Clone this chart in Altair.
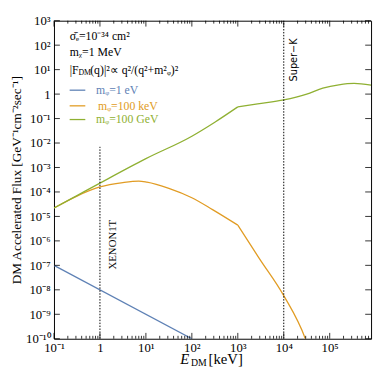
import altair as alt
import pandas as pd

# ---- data ----
blue_E = [0.1, 100.0]
blue_F = [1e-7, 1e-10]

orange_E = [0.1, 0.316, 1.0, 3.16, 7.0, 10.5, 31.6, 100.0, 282.0, 1000.0, 2950.0, 10000.0, 29500.0, 35000.0]
orange_F = [2.2e-5, 6.8e-5, 1.6e-4, 2.4e-4, 2.75e-4, 2.5e-4, 1.4e-4, 5.8e-5, 1.9e-5, 4.4e-6, 1.9e-7, 5.8e-9, 1.0e-10, 4e-11]

green_E = [0.1, 0.316, 1.0, 10.0, 100.0, 316.0, 1000.0, 2700.0, 10000.0, 31600.0, 70800.0, 158000.0, 339000.0, 794000.0]
green_F = [2.2e-5, 7.1e-5, 2.3e-4, 2.3e-3, 1.9e-2, 7.1e-2, 0.30, 0.40, 0.58, 1.0, 1.74, 2.4, 2.75, 2.3]

series_names = ["m_phi=1 eV", "m_phi=100 keV", "m_phi=100 GeV"]
colors = ["#5E81B5", "#E19C24", "#8FB032"]
kink_E = 1000.0

x_ticks_major = [0.1, 1, 10, 100, 1e3, 1e4, 1e5]
y_ticks_major = [10.0 ** e for e in range(-10, 4)]
x_ticks_minor = [m * 10.0 ** k for k in range(-1, 6) for m in range(2, 10) if m * 10.0 ** k < 10 ** 5.9]

xenon_x = [1.0, 1.0]
xenon_y = [1e-10, 7e-3]
superk_x = [1e4, 1e4]
superk_y = [1e-10, 1e3]

XDOM = [0.1, 10 ** 5.9]
YDOM = [1e-10, 1e3]
W, H = 324, 325

SUP = str.maketrans("-0123456789", "⁻⁰¹²³⁴⁵⁶⁷⁸⁹")


def lab(e):
    return "1" if e == 0 else "10" + str(e).translate(SUP)


def label_expr(exps):
    e = "round(log(datum.value)/LN10)"
    s = "''"
    for k in exps:
        s = f"({e}=={k}?'{lab(k)}':{s})"
    return s


x_axis = alt.Axis(values=x_ticks_major, labelExpr=label_expr(range(-1, 6)), title=None,
                  labelPadding=3, labelFlush=False)
y_axis = alt.Axis(values=y_ticks_major, labelExpr=label_expr(range(-10, 4)),
                  title="DM Accelerated Flux [GeV⁻¹cm⁻²sec⁻¹]", titleFont="Liberation Serif",
                  titleFontSize=13.5, titleFontWeight="normal", titleX=-38, titleY=H / 2,
                  titleBaseline="middle", labelPadding=4, labelFlush=False)

xs = alt.Scale(type="log", domain=XDOM, nice=False)
ys = alt.Scale(type="log", domain=YDOM, nice=False)


def X(f="E"):
    return alt.X(f"{f}:Q", scale=xs, axis=x_axis)


def Y(f="F"):
    return alt.Y(f"{f}:Q", scale=ys, axis=y_axis)


rows = []
for name, E, F in zip(series_names, [blue_E, orange_E, green_E], [blue_F, orange_F, green_F]):
    for i, (e, f) in enumerate(zip(E, F)):
        if e <= kink_E:
            rows.append({"series": name, "seg": name + "a", "E": e, "F": f, "i": i})
        if e >= kink_E:
            rows.append({"series": name, "seg": name + "b", "E": e, "F": f, "i": i})
df = pd.DataFrame(rows)

lines = alt.Chart(df).mark_line(strokeWidth=1.3, clip=True, interpolate="monotone").encode(
    x=X(), y=Y(), order="i:O",
    color=alt.Color("series:N", scale=alt.Scale(domain=series_names, range=colors), legend=None),
    detail="seg:N",
)

ref_df = pd.DataFrame({"E": xenon_x + superk_x, "F": xenon_y + superk_y, "g": ["x", "x", "s", "s"]})
refs = alt.Chart(ref_df).mark_line(color="black", strokeWidth=1, strokeDash=[1.5, 1.5], clip=True).encode(
    x=X(), y=Y(), detail="g:N")

ann_df = pd.DataFrame({"E": [1.9], "F": [7e-7], "t": ["XENON1T"]})
ann1 = alt.Chart(ann_df).mark_text(angle=270, font="Liberation Serif", fontSize=11, color="black",
                                   align="center", baseline="middle").encode(x=X(), y=Y(), text="t:N")
ann2_df = pd.DataFrame({"E": [1.7e4], "F": [25.0], "t": ["Super−K"]})
ann2 = alt.Chart(ann2_df).mark_text(angle=270, font="DejaVu Sans", fontSize=10, color="black",
                                    align="center", baseline="middle").encode(x=X(), y=Y(), text="t:N")

# frame ticks (inward)
xmaj = pd.DataFrame({"E": x_ticks_major})
xmin = pd.DataFrame({"E": x_ticks_minor})
ymaj = pd.DataFrame({"F": y_ticks_major})
tick_layers = []
for d, ln in [(xmaj, 6), (xmin, 3)]:
    tick_layers.append(alt.Chart(d).mark_rule(color="black", strokeWidth=0.8).encode(
        x=X(), y=alt.value(H), y2=alt.value(H - ln)))
    tick_layers.append(alt.Chart(d).mark_rule(color="black", strokeWidth=0.8).encode(
        x=X(), y=alt.value(0), y2=alt.value(ln)))
tick_layers.append(alt.Chart(ymaj).mark_rule(color="black", strokeWidth=0.8).encode(
    y=Y(), x=alt.value(0), x2=alt.value(6)))
tick_layers.append(alt.Chart(ymaj).mark_rule(color="black", strokeWidth=0.8).encode(
    y=Y(), x=alt.value(W), x2=alt.value(W - 6)))


def txt(s, x, y, size=12, color="black", style="normal", font="Liberation Serif", align="left"):
    return alt.Chart(pd.DataFrame({"t": [s]})).mark_text(
        font=font, fontSize=size, color=color, fontStyle=style, align=align, baseline="middle"
    ).encode(x=alt.value(x), y=alt.value(y), text="t:N")


texts = [
    txt("σ̄ₑ=10⁻³⁴ cm²", 16, 16),
    txt("mᵪ=1 MeV", 16, 32),
    txt("|F", 16, 50),
    txt("DM", 25, 53, size=8),
    txt("(q)|²∝ q²/(q²+m²ᵩ)²", 37, 50),
    txt("mᵩ=1 eV", 43, 71, color=colors[0]),
    txt("mᵩ=100 keV", 45, 87, color=colors[1]),
    txt("mᵩ=100 GeV", 43, 101, color=colors[2]),
    # x axis title
    txt("E", 129, 346, size=15, style="italic"),
    txt("DM", 140, 350, size=10),
    txt("[keV]", 158, 346, size=15),
]
legend_lines = [
    alt.Chart(pd.DataFrame({"a": [0]})).mark_rule(color=c, strokeWidth=1.3).encode(
        x=alt.value(16), x2=alt.value(32), y=alt.value(yy))
    for c, yy in zip(colors, [71, 87, 101])
]

chart = alt.layer(lines, refs, ann1, ann2, *tick_layers, *legend_lines, *texts).properties(
    width=W, height=H,
    padding={"left": 47, "top": 9, "right": 3, "bottom": 30},
    autosize=alt.AutoSizeParams(type="none"),
).configure_view(stroke="black", strokeWidth=1).configure_axis(
    grid=False, ticks=False, domain=False, labelFont="Liberation Serif", labelFontSize=13,
    labelColor="black", titleColor="black"
)

chart.save("out.html", embed_options={"renderer": "svg", "actions": False})
